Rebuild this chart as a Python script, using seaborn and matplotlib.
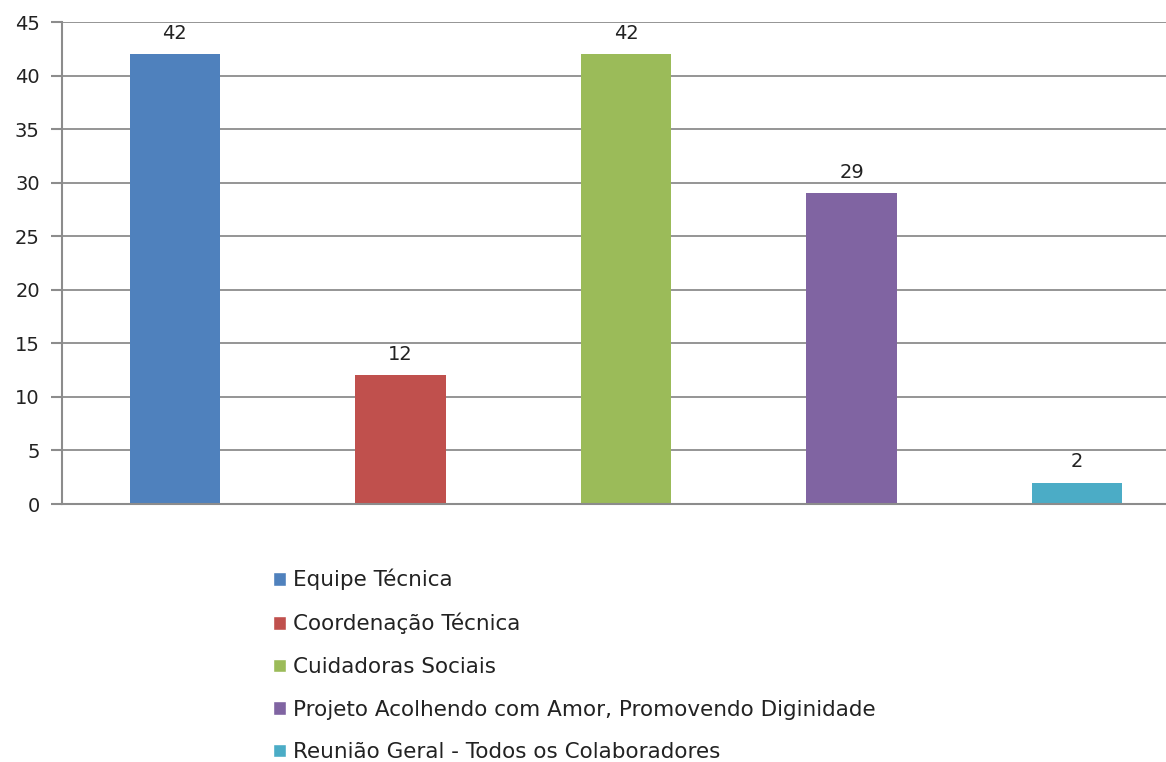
import seaborn as sns
import pandas as pd
import matplotlib.pyplot as plt
from matplotlib.patches import Patch

# dados
categorias = ['Equipe Técnica', 'Coordenação Técnica', 'Cuidadoras Sociais',
              'Projeto Acolhendo com Amor, Promovendo Diginidade',
              'Reunião Geral - Todos os Colaboradores']
valores = [42, 12, 42, 29, 2]
cores = ['#4F81BD', '#C0504D', '#9BBB59', '#8064A2', '#4BACC6']

df = pd.DataFrame({'categoria': categorias, 'valor': valores})

sns.set_style('white')
plt.rcParams['font.family'] = ['DejaVu Sans']

fig = plt.figure(figsize=(11.66, 7.62), dpi=100)
# eixo passa um pouco da borda direita, como no original recortado
ax = fig.add_axes([62 / 1166, 1 - 504 / 762, 1128 / 1166, 482 / 762])

sns.barplot(data=df, x='categoria', y='valor', hue='categoria',
            palette=cores, width=0.4, legend=False, ax=ax, saturation=1,
            edgecolor='none', linewidth=0)

for c in ax.containers:
    ax.bar_label(c, padding=8, fontsize=14, color='#222222')

ax.set_ylim(0, 45)
ax.set_xlim(-0.5, 4.5)
ax.set_yticks(range(0, 46, 5))
ax.set_xticks([])
ax.set_xlabel('')
ax.set_ylabel('')
ax.yaxis.grid(True, color='#8c8c8c', linewidth=1.3)
ax.set_axisbelow(True)
for s in ['top', 'right']:
    ax.spines[s].set_visible(False)
for s in ['left', 'bottom']:
    ax.spines[s].set_color('#8c8c8c')
    ax.spines[s].set_linewidth(1.5)
ax.tick_params(axis='y', left=True, length=8, width=1.5, color='#8c8c8c',
               labelsize=14, pad=8, labelcolor='#222222')

handles = [Patch(facecolor=c, label=l) for c, l in zip(cores, categorias)]
fig.legend(handles=handles, loc='upper left', bbox_to_anchor=(262 / 1166, 1 - 558 / 762),
           frameon=False, fontsize=15.5, handlelength=0.6, handleheight=0.6,
           handletextpad=0.35, labelspacing=1.05, labelcolor='#222222',
           borderpad=0)

plt.savefig('out.png', dpi=100)
